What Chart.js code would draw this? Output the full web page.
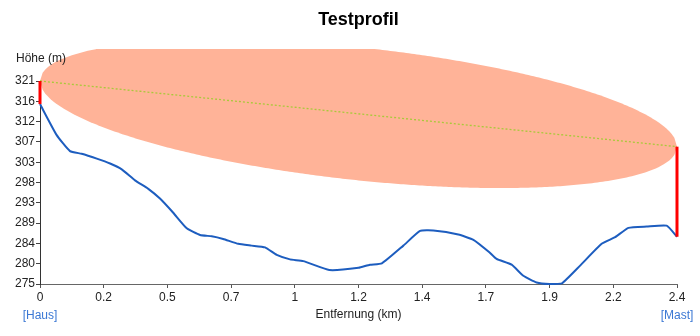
<!DOCTYPE html>
<html>
<head>
<meta charset="utf-8">
<script src="https://cdn.jsdelivr.net/npm/chart.js@4/dist/chart.umd.min.js"></script>
<style>
html,body{margin:0;padding:0;background:#fff;}
#c{display:block;}
</style>
</head>
<body>
<canvas id="c" width="700" height="336"></canvas>
<script>
// Terrain profile (distance in km, height in m)
const distances = [0, 0.063, 0.113, 0.157, 0.214, 0.264, 0.308, 0.358, 0.408, 0.452, 0.502, 0.553, 0.603, 0.647, 0.69, 0.747, 0.797, 0.848, 0.892, 0.942, 0.992, 1.09, 1.2, 1.243, 1.288, 1.369, 1.432, 1.482, 1.576, 1.633, 1.693, 1.72, 1.777, 1.821, 1.871, 1.92, 1.966, 2.035, 2.116, 2.167, 2.217, 2.286, 2.361, 2.4];
const heights = [315.7, 308.7, 305.1, 304.5, 303.4, 302.3, 301.0, 298.5, 296.6, 294.4, 291.2, 287.7, 286.2, 285.9, 285.3, 284.2, 283.8, 283.4, 281.7, 280.7, 280.3, 278.3, 278.8, 279.5, 279.8, 283.8, 287.1, 287.2, 286.3, 285.1, 282.3, 280.8, 279.5, 277.0, 275.5, 275.15, 275.3, 279.3, 284.2, 285.7, 287.8, 288.1, 288.3, 285.8];
// Antenna tops
const houseTop = 320.9;
const mastTop = 306.1;
// Fresnel zone radius at mid-path (m)
const fresnelRadius = 15;
// Ticks
const xTickValues = [0, 0.24, 0.48, 0.72, 0.96, 1.2, 1.44, 1.68, 1.92, 2.16, 2.4];
const xTickLabels = ['0', '0.2', '0.5', '0.7', '1', '1.2', '1.4', '1.7', '1.9', '2.2', '2.4'];
const yTickValues = [275.15, 279.73, 284.30, 288.88, 293.45, 298.03, 302.60, 307.18, 311.75, 316.33, 320.9];
const yTickLabels = ['275', '280', '284', '289', '293', '298', '303', '307', '312', '316', '321'];
const endLabels = ['[Haus]', '[Mast]'];

const FONT = "'Liberation Sans', Arial, sans-serif";
const D = distances[distances.length - 1];

const terrain = distances.map((d, i) => ({x: d, y: heights[i]}));

const fresnelPlugin = {
  id: 'fresnel',
  beforeDatasetsDraw(chart) {
    const {ctx, chartArea, scales} = chart;
    const xs = scales.x, ys = scales.y;
    const N = 240;
    const top = [], bot = [];
    for (let i = 0; i <= N; i++) {
      const t = i / N;
      const los = houseTop + (mastTop - houseTop) * t;
      const r = fresnelRadius * 2 * Math.sqrt(t * (1 - t));
      const px = xs.getPixelForValue(t * D);
      top.push([px, ys.getPixelForValue(los + r)]);
      bot.push([px, ys.getPixelForValue(los - r)]);
    }
    ctx.save();
    ctx.beginPath();
    ctx.rect(chartArea.left, chartArea.top - 32, chartArea.right - chartArea.left + 2, chartArea.bottom - chartArea.top + 32);
    ctx.clip();
    ctx.beginPath();
    top.forEach((p, i) => i ? ctx.lineTo(p[0], p[1]) : ctx.moveTo(p[0], p[1]));
    for (let i = bot.length - 1; i >= 0; i--) ctx.lineTo(bot[i][0], bot[i][1]);
    ctx.closePath();
    ctx.fillStyle = '#ffb398';
    ctx.fill();
    ctx.restore();
  },
  afterDraw(chart) {
    const {ctx, chartArea} = chart;
    ctx.save();
    ctx.fillStyle = '#000';
    ctx.font = 'bold 18px ' + FONT;
    ctx.textAlign = 'center';
    ctx.textBaseline = 'alphabetic';
    ctx.fillText('Testprofil', (chartArea.left + chartArea.right) / 2, 25);
    ctx.font = '12px ' + FONT;
    ctx.fillStyle = '#222';
    ctx.textBaseline = 'middle';
    ctx.fillText('Höhe (m)', chartArea.left + 1, chartArea.top - 22);
    ctx.fillStyle = '#3b78d4';
    ctx.fillText(endLabels[0], chartArea.left, chartArea.bottom + 32);
    ctx.fillText(endLabels[1], chartArea.right, chartArea.bottom + 32);
    ctx.restore();
  }
};

new Chart(document.getElementById('c'), {
  type: 'line',
  data: {
    datasets: [
      {
        label: 'LOS',
        data: [{x: 0, y: houseTop}, {x: D, y: mastTop}],
        borderColor: '#a9c93a',
        borderWidth: 1.3,
        borderDash: [2, 2],
        pointRadius: 0,
        clip: false,
        order: 1
      },
      {
        label: 'Haus',
        data: [{x: 0, y: heights[0]}, {x: 0, y: houseTop}],
        borderColor: '#ff0000',
        borderWidth: 3,
        pointRadius: 0,
        clip: false,
        order: 0
      },
      {
        label: 'Mast',
        data: [{x: D, y: heights[heights.length - 1]}, {x: D, y: mastTop}],
        borderColor: '#ff0000',
        borderWidth: 3,
        pointRadius: 0,
        clip: false,
        order: 0
      },
      {
        label: 'Gelände',
        data: terrain,
        borderColor: '#1d5dbf',
        borderWidth: 2,
        pointRadius: 0,
        tension: 0.15,
        clip: false,
        order: 2
      }
    ]
  },
  options: {
    responsive: false,
    animation: false,
    devicePixelRatio: 1,
    layout: {padding: {top: 81, right: 23, left: 0, bottom: 0}},
    plugins: {legend: {display: false}, tooltip: {enabled: false}, title: {display: false}},
    scales: {
      x: {
        type: 'linear',
        min: 0,
        max: D,
        afterBuildTicks(scale) { scale.ticks = xTickValues.map(v => ({value: v})); },
        afterFit(scale) { scale.height = 52; },
        ticks: {
          callback: (v, i) => xTickLabels[i],
          font: {family: FONT, size: 12},
          color: '#222',
          padding: 2,
          maxRotation: 0,
          autoSkip: false
        },
        grid: {drawOnChartArea: false, drawTicks: true, tickLength: 4, color: '#555'},
        border: {display: true, color: '#666', width: 1},
        title: {display: true, text: 'Entfernung (km)', font: {family: FONT, size: 12}, color: '#222', padding: {top: 0, bottom: 14}}
      },
      y: {
        type: 'linear',
        min: yTickValues[0],
        max: yTickValues[yTickValues.length - 1],
        afterBuildTicks(scale) { scale.ticks = yTickValues.map(v => ({value: v})); },
        afterFit(scale) { scale.width = 40; },
        ticks: {
          callback: (v, i) => yTickLabels[i],
          font: {family: FONT, size: 12},
          color: '#222',
          padding: 1,
          autoSkip: false
        },
        grid: {drawOnChartArea: false, drawTicks: true, tickLength: 4, color: '#444'},
        border: {display: true, color: '#333', width: 1}
      }
    }
  },
  plugins: [fresnelPlugin]
});
</script>
</body>
</html>
